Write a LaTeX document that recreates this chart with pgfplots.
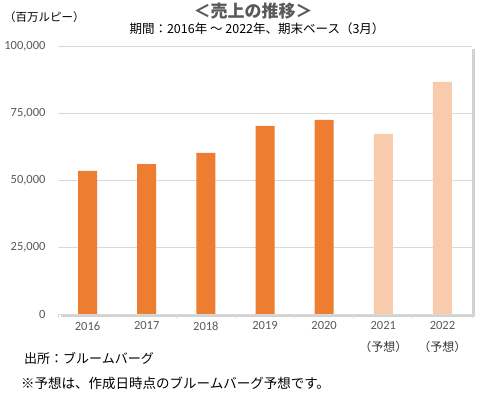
\documentclass[border=0pt]{standalone}
\usepackage{pgfplots}
\pgfplotsset{compat=1.18}
\usepackage{fontspec}
\setmainfont{Noto Sans CJK JP}
\newfontfamily\cjk{Noto Sans CJK JP}
\newfontfamily\num{Carlito}
\usetikzlibrary{shadows}
\definecolor{bar1}{HTML}{ED7D31}
\definecolor{bar2}{HTML}{F8CBAD}
\definecolor{txtgray}{HTML}{595959}
\definecolor{gridc}{HTML}{D9D9D9}
\begin{document}
\begin{tikzpicture}
\path[use as bounding box] (0,0) rectangle (494bp,397bp);
\begin{axis}[
  at={(58bp,82.7bp)}, anchor=south west,
  scale only axis, width=414bp, height=268bp,
  xmin=-0.5, xmax=6.5, ymin=0, ymax=100000,
  ytick={0,25000,50000,75000,100000},
  yticklabels={0,{25,000},{50,000},{75,000},{100,000}},
  xtick={0,...,6},
  xticklabels={2016,2017,2018,2019,2020,{2021\\[9bp]{\cjk\fontsize{12bp}{12bp}\selectfont\color{black!80}（予想）}},{2022\\[9bp]{\cjk\fontsize{12bp}{12bp}\selectfont\color{black!80}（予想）}}},
  xticklabel style={align=center, yshift=-4bp, font=\num\fontsize{12.5bp}{13bp}\selectfont, text=txtgray},
  yticklabel style={xshift=-9bp, font=\num\fontsize{12.5bp}{13bp}\selectfont, text=txtgray},
  scaled y ticks=false,
  ymajorgrids, grid style={gridc, line width=0.8pt},
  major tick length=0pt,
  minor xtick={-0.5,0.5,...,6.5},
  minor tick length=4bp,
  xtick pos=bottom, ytick pos=left,
  minor tick style={gridc, line width=0.8pt},
  axis line style={draw=none},
  axis background/.style={fill=white, drop shadow={shadow xshift=2.5bp, shadow yshift=-2.5bp, fill=black!35, opacity=0.5}},
  clip=false,
  ybar, bar width=19bp, bar shift=0pt,
]
\addplot[fill=bar1, draw=none] coordinates {(0,53470) (1,56080) (2,60190) (3,70260) (4,72500)};
\addplot[fill=bar2, draw=none] coordinates {(5,67280) (6,86680)};
\draw[gridc, line width=0.8pt] (axis cs:-0.5,0) -- (axis cs:6.5,0);
\end{axis}
\node[text=txtgray, font=\fontsize{17bp}{18bp}\selectfont\bfseries] at (253bp,386bp) {＜売上の推移＞};
\node[font=\fontsize{12.5bp}{13bp}\selectfont] at (257bp,368.5bp) {期間：2016年 ～ 2022年、期末ベース（3月）};
\node[anchor=west, inner sep=0pt, font=\fontsize{11.5bp}{12bp}\selectfont] at (4bp,380bp) {（百万ルピー）};
\node[anchor=west, inner sep=0pt, font=\fontsize{13bp}{14bp}\selectfont] at (24bp,39bp) {出所：ブルームバーグ};
\node[anchor=west, inner sep=0pt, font=\fontsize{13.5bp}{14bp}\selectfont] at (21bp,14bp) {※予想は、作成日時点のブルームバーグ予想です。};
\end{tikzpicture}
\end{document}
